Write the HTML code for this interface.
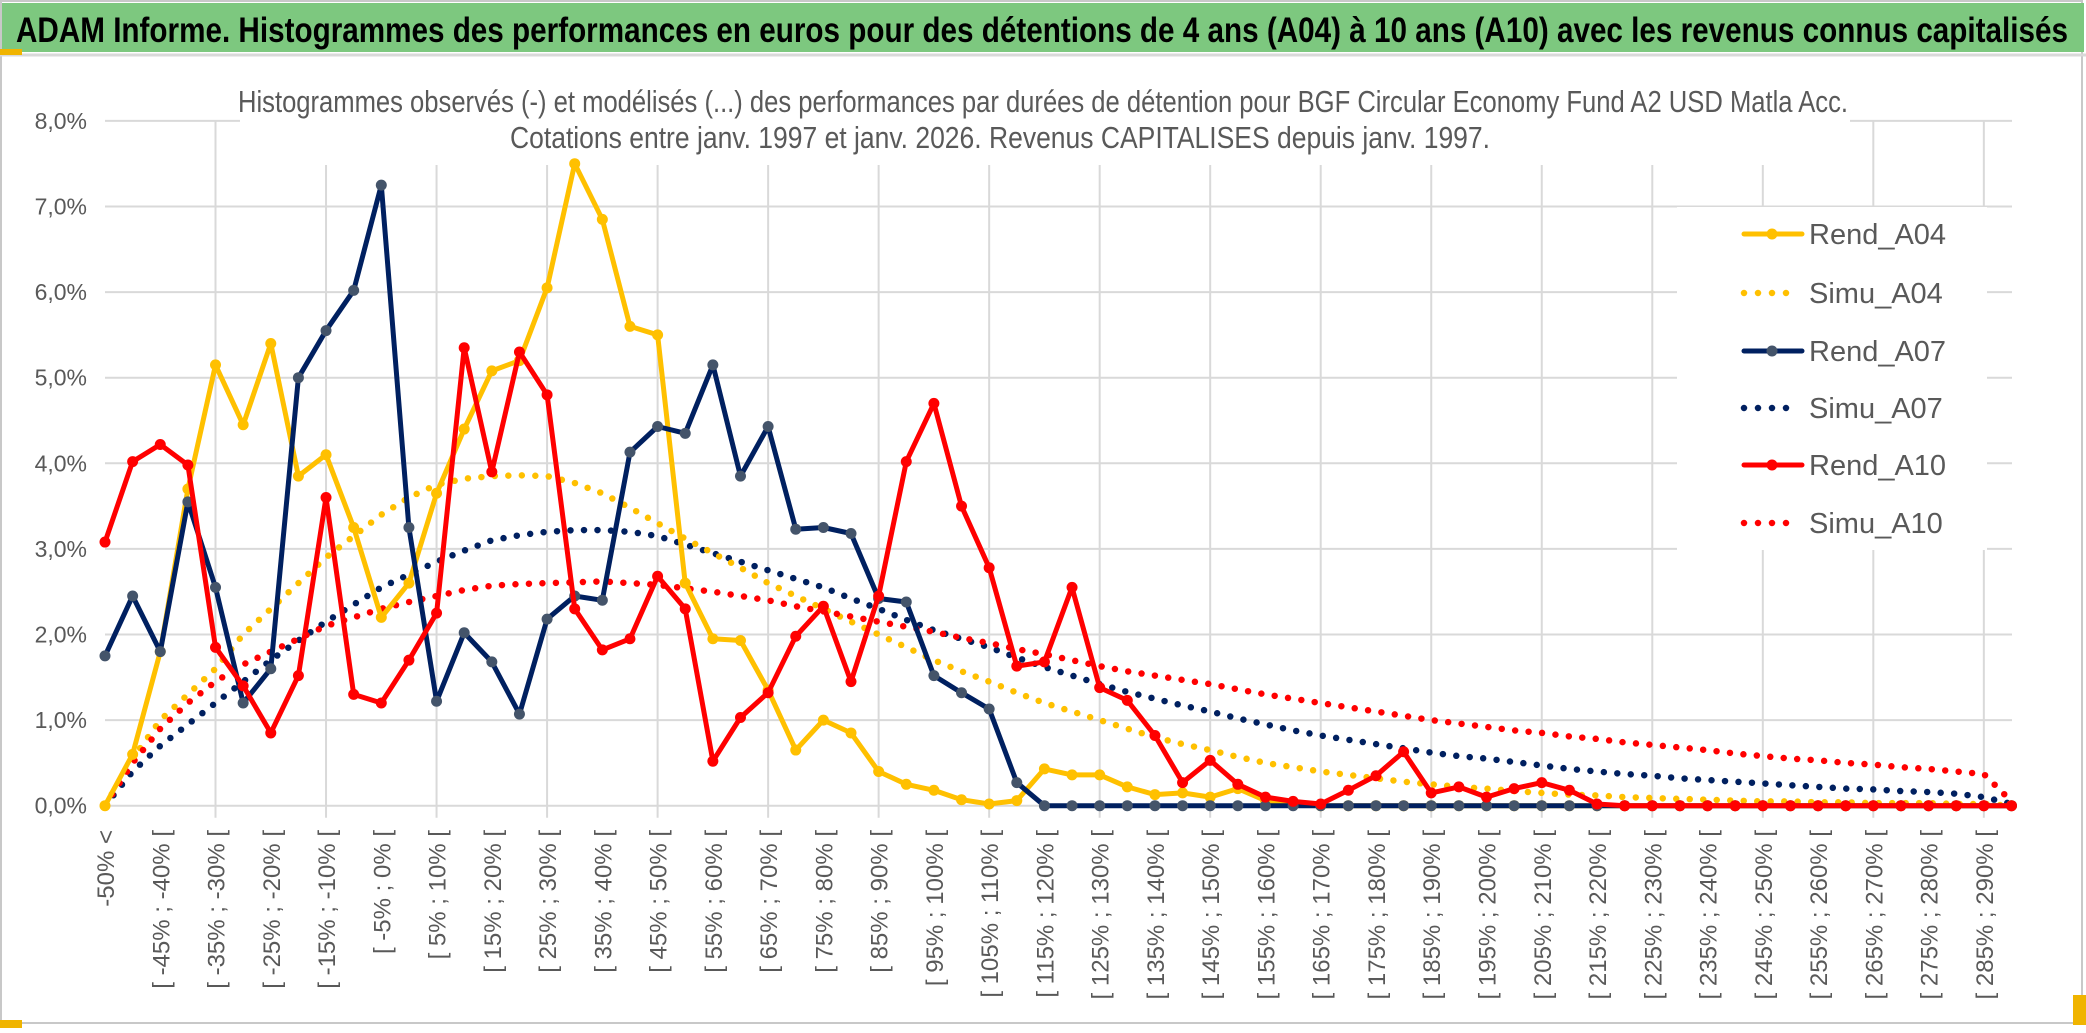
<!DOCTYPE html>
<html><head><meta charset="utf-8"><style>
html,body{margin:0;padding:0;background:#fff;}
svg{display:block;}
</style></head><body>
<svg id="chart" width="2086" height="1033" viewBox="0 0 2086 1033" xmlns="http://www.w3.org/2000/svg" font-family="'Liberation Sans Narrow','Liberation Sans',sans-serif">
  <rect x="0" y="0" width="2086" height="1033" fill="#fff"/>
  <rect x="1" y="1" width="2081" height="1022" fill="none" stroke="#c8c8c8" stroke-width="2"/>
  <rect x="2" y="3" width="2082" height="49" fill="#7dc87f"/>
  <line x1="0" y1="55" x2="2086" y2="55" stroke="#d9d9d9" stroke-width="3"/>
  <rect x="0" y="49" width="22" height="6" fill="#f0b400"/>
  <rect x="0" y="1020" width="22" height="8" fill="#f0b400"/>
  <rect x="2073" y="995" width="13" height="30" fill="#f0b400"/>
  <text x="16" y="42" font-size="35" font-weight="bold" fill="#000" textLength="2052" lengthAdjust="spacingAndGlyphs">ADAM Informe. Histogrammes des performances en euros pour des détentions de 4 ans (A04) à 10 ans (A10) avec les revenus connus capitalisés</text>
  <g id="grid"></g>
  <rect x="240" y="80" width="1610" height="85" fill="#fff"/>
  <text x="1043" y="112" font-size="31" fill="#595959" text-anchor="middle" textLength="1610" lengthAdjust="spacingAndGlyphs">Histogrammes observés (-) et modélisés (...) des performances par durées de détention pour BGF Circular Economy Fund A2 USD Matla Acc.</text>
  <text x="1000" y="148" font-size="31" fill="#595959" text-anchor="middle" textLength="980" lengthAdjust="spacingAndGlyphs">Cotations entre janv. 1997 et janv. 2026. Revenus CAPITALISES depuis janv. 1997.</text>
  <g id="yaxis"></g>
  <g id="xaxis"></g>
  <g id="legend">
    <rect x="1677" y="207" width="310" height="343" fill="#fff"/>
  </g>
  <g id="series"></g>
</svg>
<script>
const rendA04 = [0,0.6,1.8,3.7,5.15,4.45,5.4,3.85,4.1,3.25,2.2,2.6,3.65,4.4,5.08,5.2,6.05,7.5,6.85,5.6,5.5,2.6,1.95,1.93,1.35,0.65,1.0,0.85,0.4,0.25,0.18,0.07,0.02,0.06,0.43,0.36,0.36,0.22,0.13,0.15,0.1,0.2,0.06,0.02,0,0,0,0,0,0,0,0,0,0,0,0,0,0,0,0,0,0,0,0,0,0,0,0,0,0];
const rendA07 = [1.75,2.45,1.8,3.55,2.55,1.2,1.6,5.0,5.55,6.02,7.25,3.25,1.22,2.02,1.68,1.07,2.18,2.45,2.4,4.13,4.43,4.35,5.15,3.85,4.43,3.23,3.25,3.18,2.42,2.38,1.52,1.32,1.13,0.27,0,0,0,0,0,0,0,0,0,0,0,0,0,0,0,0,0,0,0,0,0,0,0,0,0,0,0,0,0,0,0,0,0,0,0,0];
const rendA10 = [3.08,4.02,4.22,3.98,1.85,1.4,0.85,1.52,3.6,1.3,1.2,1.7,2.25,5.35,3.9,5.3,4.8,2.3,1.82,1.95,2.68,2.3,0.52,1.03,1.32,1.98,2.33,1.45,2.45,4.02,4.7,3.5,2.78,1.63,1.68,2.55,1.38,1.23,0.82,0.27,0.53,0.25,0.1,0.05,0.02,0.18,0.35,0.63,0.15,0.22,0.1,0.2,0.27,0.18,0.02,0,0,0,0,0,0,0,0,0,0,0,0,0,0,0];
const simuA04 = [0,0.55,1.0,1.3,1.6,2.0,2.3,2.6,2.9,3.15,3.4,3.6,3.75,3.82,3.85,3.86,3.85,3.77,3.65,3.48,3.3,3.12,2.95,2.78,2.6,2.45,2.3,2.15,2.0,1.85,1.7,1.57,1.45,1.32,1.2,1.1,1.0,0.9,0.8,0.72,0.65,0.57,0.5,0.45,0.4,0.36,0.32,0.28,0.25,0.22,0.2,0.17,0.15,0.13,0.12,0.1,0.09,0.08,0.07,0.06,0.05,0.05,0.04,0.04,0.03,0.03,0.03,0.02,0.02,0];
const simuA07 = [0,0.4,0.7,0.95,1.2,1.45,1.7,1.93,2.15,2.35,2.55,2.7,2.85,2.98,3.1,3.16,3.2,3.22,3.22,3.2,3.15,3.05,2.95,2.85,2.75,2.65,2.55,2.42,2.3,2.17,2.05,1.95,1.85,1.73,1.62,1.52,1.42,1.33,1.25,1.17,1.1,1.02,0.95,0.88,0.82,0.77,0.72,0.67,0.62,0.58,0.55,0.51,0.47,0.43,0.4,0.37,0.35,0.32,0.3,0.28,0.26,0.24,0.22,0.2,0.19,0.17,0.16,0.14,0.1,0.02];
const simuA10 = [0,0.5,0.9,1.2,1.45,1.65,1.8,1.95,2.1,2.2,2.3,2.38,2.45,2.52,2.57,2.59,2.6,2.61,2.62,2.6,2.58,2.54,2.5,2.45,2.4,2.33,2.27,2.21,2.15,2.09,2.03,1.96,1.9,1.83,1.77,1.7,1.63,1.57,1.52,1.47,1.42,1.36,1.3,1.25,1.2,1.15,1.1,1.05,1.0,0.96,0.92,0.88,0.85,0.81,0.78,0.74,0.71,0.68,0.65,0.61,0.58,0.55,0.53,0.5,0.48,0.45,0.43,0.4,0.37,0.05];
const yTicks = [0,1,2,3,4,5,6,7,8];
const legendNames = ["Rend_A04","Simu_A04","Rend_A07","Simu_A07","Rend_A10","Simu_A10"];

const NS = "http://www.w3.org/2000/svg";
const X0 = 105, DX = 27.63, Y0 = 805.7, DY = 85.6;
function xPos(i){ return X0 + i*DX; }
function yPos(v){ return Y0 - v*DY; }
function mk(tag, attrs, parent){ const e=document.createElementNS(NS,tag); for(const k in attrs) e.setAttribute(k,attrs[k]); parent.appendChild(e); return e; }
function catLabel(i){ if(i===0) return "-50% <"; const a=-55+5*i, b=-50+5*i; return "[ "+a+"% ; "+b+"% ["; }

const grid=document.getElementById('grid');
yTicks.forEach(t=>{
  const l=mk('line',{x1:X0,x2:2012,y1:yPos(t),y2:yPos(t),stroke:'#d9d9d9','stroke-width':2},grid);
  
  
});
const nCat = rendA04.length;
for(let i=4;i<nCat;i+=4){
  const l=mk('line',{x1:xPos(i),x2:xPos(i),y1:yPos(8),y2:Y0+12,stroke:'#d9d9d9','stroke-width':2},grid);
  
  
}
const ya=document.getElementById('yaxis');
yTicks.forEach(t=>{
  const tx=mk('text',{x:87,y:yPos(t)+8,'font-size':23,fill:'#595959','text-anchor':'end'},ya);
  tx.textContent=t.toFixed(1).replace('.',',')+'%';
  
  
});
const xa=document.getElementById('xaxis');
for(let i=0;i<nCat;i+=2){
  if(i>=69) break;
  const x=xPos(i)+9, y=830;
  const tx=mk('text',{x:x,y:y,'font-size':24,fill:'#595959','text-anchor':'end','font-family':"'Liberation Sans',sans-serif",transform:'rotate(-90 '+x+' '+y+')'},xa);
  tx.textContent=catLabel(i);
  
  
}
const ser=document.getElementById('series');
function pts(arr){ return arr.map((v,i)=>xPos(i).toFixed(1)+','+yPos(v).toFixed(1)).join(' '); }
function dotted(arr,color,name){
  const p=mk('polyline',{points:pts(arr),fill:'none',stroke:color,'stroke-width':6.5,'stroke-linecap':'round','stroke-dasharray':'0 13.5'},ser);
  
  
}
function solid(arr,color,mcolor,name){
  const g=mk('g',{},ser);
  
  
  mk('polyline',{points:pts(arr),fill:'none',stroke:color,'stroke-width':5,'stroke-linejoin':'round'},g);
  arr.forEach((v,i)=>{
    const c=mk('circle',{cx:xPos(i),cy:yPos(v),r:5.5,fill:mcolor},g);
    
    
  });
}
dotted(simuA07,'#002060','simu-a07-line');
dotted(simuA04,'#ffc000','simu-a04-line');
dotted(simuA10,'#ff0000','simu-a10-line');
solid(rendA04,'#ffc000','#ffc000','rend-a04-line');
solid(rendA07,'#002060','#44546a','rend-a07-line');
solid(rendA10,'#ff0000','#ff0000','rend-a10-line');

const lg=document.getElementById('legend');
const lcol=['#ffc000','#ffc000','#002060','#002060','#ff0000','#ff0000'];
const lmark=['#ffc000',null,'#44546a',null,'#ff0000',null];
const ly=[234,293,351,408,465,523];
legendNames.forEach((n,k)=>{
  const g=mk('g',{},lg);
  
  
  if(lmark[k]){
    mk('line',{x1:1744,x2:1802,y1:ly[k],y2:ly[k],stroke:lcol[k],'stroke-width':5,'stroke-linecap':'round'},g);
    mk('circle',{cx:1772,cy:ly[k],r:5.5,fill:lmark[k]},g);
  } else {
    mk('line',{x1:1744,x2:1800,y1:ly[k],y2:ly[k],stroke:lcol[k],'stroke-width':6.5,'stroke-linecap':'round','stroke-dasharray':'0 14'},g);
  }
  const t=mk('text',{x:1809,y:ly[k]+10,'font-size':29,fill:'#595959'},g);
  t.textContent=n;
});
</script>
</body></html>
